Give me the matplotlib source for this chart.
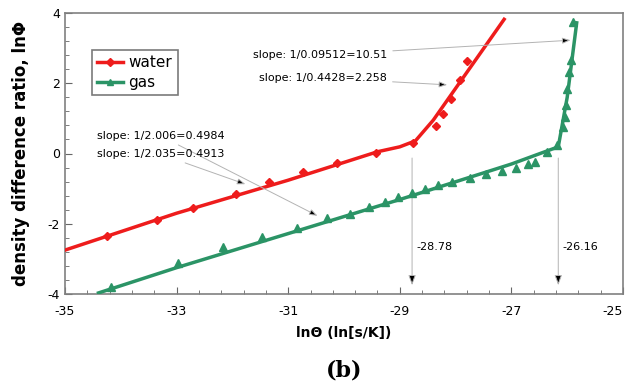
import numpy as np
import matplotlib
matplotlib.use('Agg')
import matplotlib.pyplot as plt

plt.rcParams['axes.unicode_minus'] = False

# measured points
water_x = [-34.25, -33.35, -32.70, -31.94, -31.34, -30.73, -30.12, -29.42, -28.77,
           -28.35, -28.22, -28.09, -27.93, -27.79]
water_y = [-2.35, -1.90, -1.56, -1.14, -0.82, -0.52, -0.27, 0.02, 0.29,
           0.78, 1.12, 1.54, 2.09, 2.62]

gas_x = [-34.18, -32.97, -32.16, -31.47, -30.84, -30.31, -29.89, -29.56, -29.27, -29.04,
         -28.79, -28.55, -28.31, -28.06, -27.74, -27.46, -27.17, -26.92, -26.71, -26.58,
         -26.36, -26.18, -26.07, -26.04, -26.02, -26.00, -25.96, -25.94, -25.89]
gas_y = [-3.80, -3.13, -2.66, -2.37, -2.11, -1.85, -1.71, -1.52, -1.38, -1.23,
         -1.13, -1.01, -0.91, -0.82, -0.71, -0.59, -0.49, -0.42, -0.30, -0.24,
         0.05, 0.24, 0.76, 1.05, 1.38, 1.85, 2.33, 2.66, 3.75]

# trend lines
water_fit_x = [-35.0, -33.0, -31.0, -29.4, -29.0, -28.72, -28.40, -27.13]
water_fit_y = [-2.75, -1.70, -0.76, 0.05, 0.19, 0.36, 0.95, 3.82]
gas_fit_x = [-34.4, -33.0, -31.0, -29.0, -27.0, -26.16, -26.0, -25.83]
gas_fit_y = [-3.97, -3.25, -2.28, -1.31, -0.30, 0.19, 1.6, 3.72]

# breakpoints
knees = [-28.78, -26.16]
knee_labels = ['-28.78', '-26.16']

x_major = [-35, -33, -31, -29, -27, -25]
y_major = [-4, -2, 0, 2, 4]

red = '#ee1c1c'
green = '#2b9466'

fig = plt.figure(figsize=(6.33, 3.81), dpi=100)
ax = fig.add_axes([65/633, 1-294/381, 558/633, 281/381])

ax.plot(water_fit_x, water_fit_y, '-', color=red, linewidth=2.5, zorder=3)
ax.plot(water_x, water_y, 'D', color=red, markersize=4.5, zorder=4)
ax.plot(gas_fit_x, gas_fit_y, '-', color=green, linewidth=2.5, zorder=3)
ax.plot(gas_x, gas_y, '^', color=green, markersize=6, zorder=4)

# legend proxies
ax.plot([], [], '-D', color=red, linewidth=2.5, markersize=4, label='water')
ax.plot([], [], '-^', color=green, linewidth=2.5, markersize=5, label='gas')

ap = dict(arrowstyle='-|>,head_length=0.6,head_width=0.22', fc='black', ec='0.7', lw=0.7)
fs = 8
ax.annotate('slope: 1/0.09512=10.51', xy=(-25.89, 3.23), xytext=(-31.63, 2.80),
            fontsize=fs, va='center', arrowprops=ap)
ax.annotate('slope: 1/0.4428=2.258', xy=(-28.10, 1.95), xytext=(-31.52, 2.15),
            fontsize=fs, va='center', arrowprops=ap)
ax.annotate('slope: 1/2.006=0.4984', xy=(-30.43, -1.81), xytext=(-34.43, 0.50),
            fontsize=fs, va='center', arrowprops=ap)
ax.annotate('slope: 1/2.035=0.4913', xy=(-31.72, -0.90), xytext=(-34.43, -0.02),
            fontsize=fs, va='center', arrowprops=ap)

for k, lab in zip(knees, knee_labels):
    ax.annotate('', xy=(k, -3.83), xytext=(k, -0.05), arrowprops=ap)
    ax.text(k + 0.08, -2.66, lab, fontsize=fs, va='center', ha='left')

ax.set_xlim(-35, -25)
ax.set_ylim(-4, 4)
ax.set_xticks(x_major)
ax.set_xticks(np.arange(-35, -24.9, 0.4), minor=True)
ax.set_yticks(y_major)
ax.set_yticks(np.arange(-4, 4.01, 0.4), minor=True)
ax.tick_params(which='both', direction='in', color='0.4', labelsize=9)
ax.tick_params(which='major', length=5)
ax.tick_params(which='minor', length=3)
ax.tick_params(axis='x', pad=8)
for s in ax.spines.values():
    s.set_color('0.5')
    s.set_linewidth(1.2)
ax.get_xticklabels()[-1].set_horizontalalignment('right')
ax.get_xticklabels()[-1].set_x(-24.85)

ax.set_xlabel('ln\u0398 (ln[s/K])', fontsize=10, fontweight='bold', labelpad=6)
ax.set_ylabel('density difference ratio, ln\u03a6', fontsize=12, fontweight='bold', labelpad=13)

leg = ax.legend(loc='upper left', bbox_to_anchor=(0.048, 0.868), borderaxespad=0,
                fontsize=11, fancybox=False, handlelength=1.7, handletextpad=0.35,
                labelspacing=0.3, borderpad=0.35)
leg.get_frame().set_edgecolor('0.35')
leg.get_frame().set_linewidth(1.2)

fig.text(344/633, 1-370/381, '(b)', fontsize=16, fontweight='bold', family='serif',
         ha='center', va='center')

fig.savefig('out.png', dpi=100)
